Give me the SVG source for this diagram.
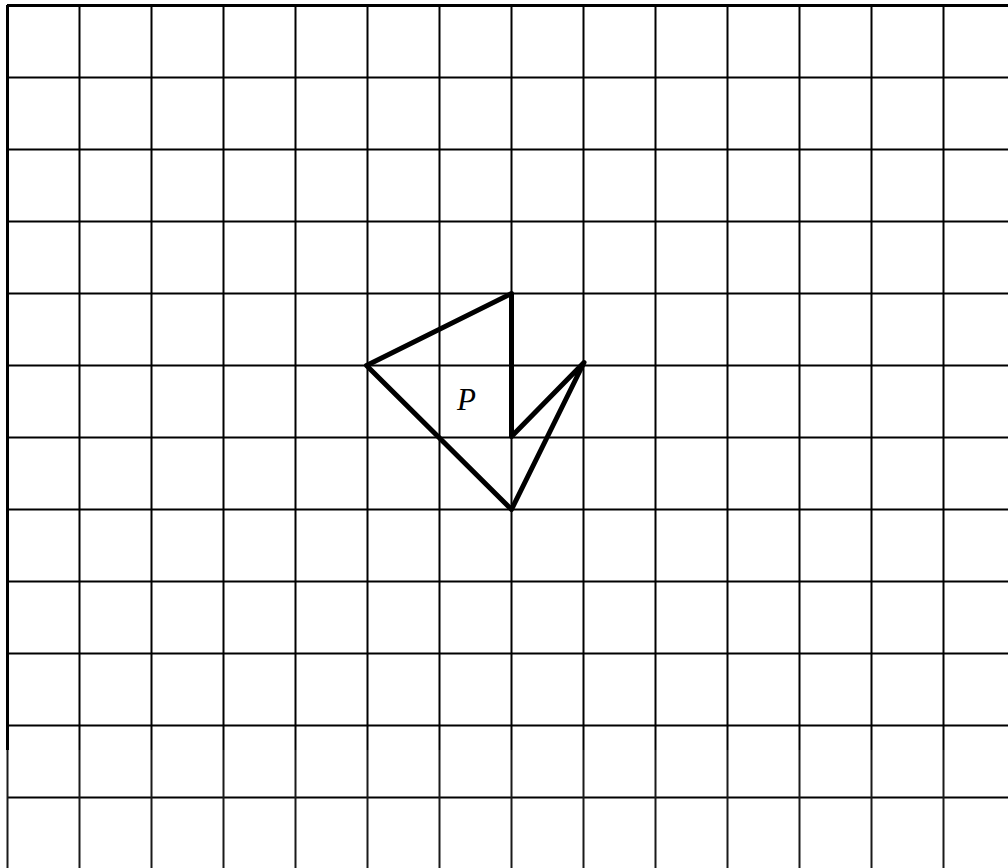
<svg xmlns="http://www.w3.org/2000/svg" width="1008" height="868" viewBox="0 0 1008 868">
<style>
.g{stroke:#000;stroke-width:2;fill:none}
.gl{stroke:#1a1a1a;stroke-width:2;fill:none}
.s{stroke:#000;stroke-width:5;fill:none;stroke-linejoin:round;stroke-linecap:round}
.t{font-family:"Liberation Serif",serif;font-style:italic;font-size:31px;fill:#000}
</style>
<rect width="1008" height="868" fill="#fff"/>
<g id="grid">
<path class="g" d="M7.5,5.5H1008M7.5,77.5H1008M7.5,149.5H1008M7.5,221.5H1008M7.5,293.5H1008M7.5,365.5H1008M7.5,437.5H1008M7.5,509.5H1008M7.5,581.5H1008M7.5,653.5H1008M7.5,725.5H1008M7.5,797.5H1008"/>
<path class="g" d="M7.5,5V750M79.5,5V750M151.5,5V750M223.5,5V750M295.5,5V750M367.5,5V750M439.5,5V750M511.5,5V750M583.5,5V750M655.5,5V750M727.5,5V750M799.5,5V750M871.5,5V750M943.5,5V750"/>
<path class="gl" d="M7.5,750V868M79.5,750V868M151.5,750V868M223.5,750V868M295.5,750V868M367.5,750V868M439.5,750V868M511.5,750V868M583.5,750V868M655.5,750V868M727.5,750V868M799.5,750V868M871.5,750V868M943.5,750V868"/>
<path stroke="#000" stroke-width="3" d="M7.5,5V750M7,5.5H1008"/>
</g>
<g id="shape-P">
<path class="s" d="M511.5,293.5L366.5,365.5L511.5,509.5L584,362.5L511.5,436.5Z"/>
<text class="t" x="457" y="410">P</text>
</g>
</svg>
